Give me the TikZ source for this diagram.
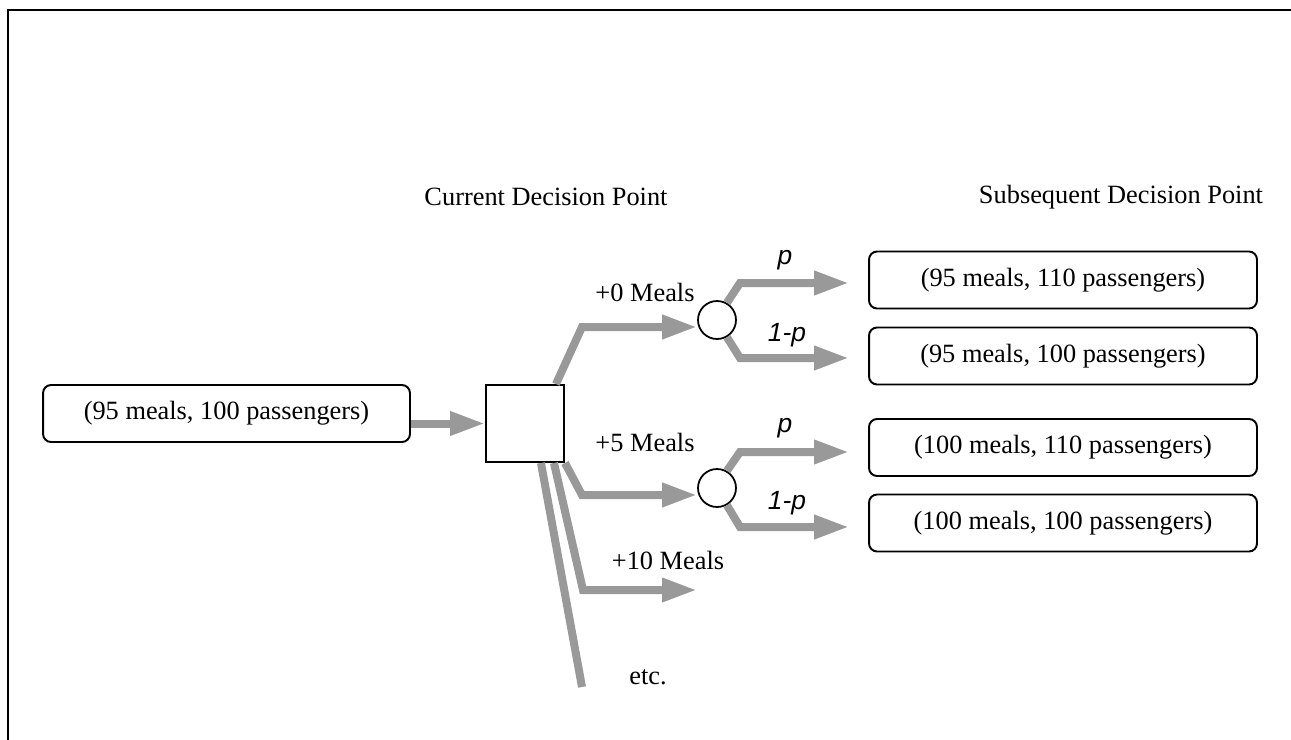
\documentclass[tikz,border=0pt]{standalone}
\usepackage{fontspec}
\setmainfont{Liberation Serif}
\newfontfamily\probfont{Liberation Sans}
\usepackage{tikz}
\usetikzlibrary{shapes.geometric, arrows.meta}
\definecolor{branchgray}{RGB}{153,153,153}

\begin{document}
\begin{tikzpicture}[x=0.02cm, y=-0.02cm, font=\fontsize{15}{18}\selectfont]
% Define styles
\tikzstyle{state} = [rectangle, rounded corners=0.16cm, minimum width=7.34cm, minimum height=1.14cm, align=center, draw=black, line width=1.1pt, fill=white]
\tikzstyle{outcome} = [state, minimum width=7.76cm]
\tikzstyle{decision} = [rectangle, minimum width=1.56cm, minimum height=1.54cm, draw=black, line width=1.1pt, fill=white]
\tikzstyle{chance} = [circle, minimum size=0.76cm, inner sep=0pt, draw=black, line width=1pt, fill=white]
\tikzstyle{arrow} = [line width=0.16cm, draw=branchgray, -{Triangle[length=0.7cm, width=0.45cm]}]
\tikzstyle{branch} = [arrow, shorten >=0.38cm]
\tikzstyle{prob} = [font=\probfont\itshape\fontsize{15}{18}\selectfont]
\useasboundingbox (0,0) rectangle (1291,740);
% Frame
\draw [line width=0.04cm] (8,740) -- (8,10) -- (1291,10);
% Place nodes
\node (now) at (546,197) {Current Decision Point};
\node (next) at (1121,197) {Subsequent Decision Point};
\node (start) [state] at (226.5,413.5) {(95 meals, 100 passengers)};
\node (sq) [decision] at (525,423.5) {};
\node (c1) [chance] at (717,320) {};
\node (c2) [chance] at (717,488) {};
\node (b1) [outcome] at (1063,280) {(95 meals, 110 passengers)};
\node (b2) [outcome] at (1063,356) {(95 meals, 100 passengers)};
\node (b3) [outcome] at (1063,447.5) {(100 meals, 110 passengers)};
\node (b4) [outcome] at (1063,523) {(100 meals, 100 passengers)};
\coordinate (ten) at (697,590);
\coordinate (etc) at (582,687);
% Labels
\node (m0) at (645,292) {+0 Meals};
\node (m5) at (645,442) {+5 Meals};
\node (m10) at (668,560) {+10 Meals};
\node (more) at (648,677) {etc.};
\node (p1) [prob] at (785,260) {p};
\node (q1) [prob] at (787,335) {1-p};
\node (p2) [prob] at (785,428) {p};
\node (q2) [prob] at (787,503) {1-p};
% Draw arrows
\draw [arrow] (start.east |- sq.west) -- (sq.west);
\draw [arrow] ([xshift=-0.18cm]sq.north east) -- (582,327) -- (c1.west |- 0,327);
\draw [arrow] (sq.south east) -- (582,495) -- (c2.west |- 0,495);
\draw [arrow] ([xshift=-0.22cm]sq.south east) -- (583,590) -- (ten);
\draw [line width=0.16cm, branchgray] ([xshift=-0.48cm]sq.south east) -- (etc);
\draw [branch] (c1.60) -- (740,283) -- (b1.west |- 0,283);
\draw [branch] (c1.-60) -- (740,358) -- (b2.west |- 0,358);
\draw [branch] (c2.60) -- (740,452) -- (b3.west |- 0,452);
\draw [branch] (c2.-60) -- (740,527) -- (b4.west |- 0,527);
\end{tikzpicture}
\end{document}
